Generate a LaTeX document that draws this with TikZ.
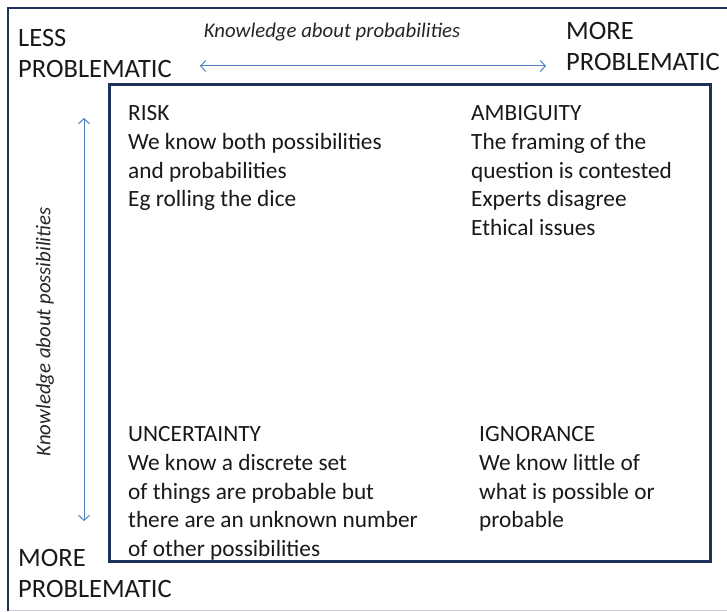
\documentclass[tikz,border=0pt]{standalone}
\usepackage{fontspec}
\setmainfont{Carlito}
\usetikzlibrary{arrows.meta}
\definecolor{navy}{RGB}{28,48,92}
\definecolor{paleframe}{RGB}{196,206,222}
\definecolor{steel}{RGB}{79,129,189}
\tikzset{
  quadtext/.style={anchor=north west, inner sep=0pt, align=left,
    font=\fontsize{23.3}{28.6}\selectfont, text=black!90},
  cornertext/.style={anchor=north west, inner sep=0pt, align=left,
    font=\fontsize{26.5}{31}\selectfont, text=black!90},
  axislabel/.style={inner sep=0pt, font=\itshape\fontsize{20.8}{24}\selectfont, text=black!85},
  axisarrow/.style={draw=steel, line width=1pt,
    {Straight Barb[length=5pt,width=11pt]}-{Straight Barb[length=5pt,width=11pt]}},
  grid box/.style={draw=navy, line width=3pt}
}
\begin{document}
\begin{tikzpicture}[x=1pt,y=-1pt]
\useasboundingbox (0,0) rectangle (727,612);
\fill[white] (0,0) rectangle (727,612);

% outer frame
\draw[paleframe, line width=1.5pt] (8,610.5) -- (727,610.5);
\draw[navy, line width=2.5pt] (8,611) -- (8,8) -- (727,8);

% inner quadrant box
\draw[grid box] (109,85) rectangle (710,561);

% corner labels
\node[cornertext] (lessTL) at (18,29.5) {LESS\\PROBLEMATIC};
\node[cornertext] (moreTR) at (566,22) {MORE\\PROBLEMATIC};
\node[cornertext] (moreBL) at (18,549) {MORE\\PROBLEMATIC};

% axes
\coordinate (hl) at (200,66);
\coordinate (hr) at (546,66);
\draw[axisarrow] (hl) -- (hr);
\node[axislabel] (probLabel) at (332,32) {Knowledge about probabilities};

\coordinate (vt) at (84,118);
\coordinate (vb) at (84,521);
\draw[axisarrow] (vt) -- (vb);
\node[axislabel, rotate=90] (possLabel) at (45,332) {Knowledge about possibilities};

% quadrants
\node[quadtext] (risk) at (128,105.5)
  {RISK\\We know both possibilities\\and probabilities\\Eg rolling the dice};
\node[quadtext] (ambiguity) at (471,105.5)
  {AMBIGUITY\\The framing of the\\question is contested\\Experts disagree\\Ethical issues};
\node[quadtext] (uncertainty) at (128,426.5)
  {UNCERTAINTY\\We know a discrete set\\of things are probable but\\there are an unknown number\\of other possibilities};
\node[quadtext] (ignorance) at (479,426.5)
  {IGNORANCE\\We know little of\\what is possible or\\probable};
\end{tikzpicture}
\end{document}
